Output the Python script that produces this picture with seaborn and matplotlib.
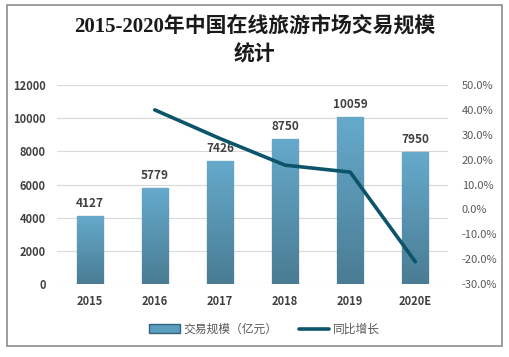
import numpy as np
import pandas as pd
import seaborn as sns
import matplotlib.pyplot as plt
from matplotlib.patches import Rectangle
from matplotlib.lines import Line2D
from matplotlib.colors import LinearSegmentedColormap

years = ['2015', '2016', '2017', '2018', '2019', '2020E']
scale = [4127, 5779, 7426, 8750, 10059, 7950]
growth_years = ['2016', '2017', '2018', '2019', '2020E']
growth = [40.0, 28.5, 17.8, 15.0, -21.0]

sns.set_theme(style='white')
plt.rcParams['font.family'] = ['Noto Sans CJK SC', 'DejaVu Sans']

df = pd.DataFrame({'year': years, 'scale': scale})

fig = plt.figure(figsize=(5.09, 3.57), dpi=100)
ax = fig.add_axes([0.112, 0.204, 0.768, 0.558])

sns.barplot(data=df, x='year', y='scale', ax=ax, width=0.4,
            color='#5b9ec0', edgecolor='#35647a', linewidth=0.9, saturation=1)

# vertical gradient inside each bar
grad = np.linspace(0, 1, 256).reshape(-1, 1)
cmap = LinearSegmentedColormap.from_list('g', ['#4a7c93', '#66aacc'])
for p in ax.patches:
    x0, y0 = p.get_x(), p.get_y()
    w, h = p.get_width(), p.get_height()
    im = ax.imshow(grad, cmap=cmap, aspect='auto', origin='lower',
                   extent=[x0, x0 + w, y0, y0 + h], zorder=p.get_zorder())
    im.set_clip_path(p)
    ax.text(x0 + w / 2, h + 350, f'{int(h)}', ha='center', va='bottom',
            fontsize=8.5, color='#404040', fontweight='bold')

ax.set_xlim(-0.5, 5.5)
ax.set_ylim(0, 12000)
ax.set_yticks(range(0, 12001, 2000))
ax.yaxis.grid(True, color='#d9d9d9', linewidth=0.8)
ax.set_axisbelow(True)
for s in ax.spines.values():
    s.set_visible(False)
ax.set_xlabel('')
ax.set_ylabel('')
ax.tick_params(axis='both', length=0, labelsize=8, colors='#404040', pad=8)
for lab in ax.get_xticklabels() + ax.get_yticklabels():
    lab.set_fontweight('bold')

ax2 = ax.twinx()
pos = [years.index(y) for y in growth_years]
sns.lineplot(x=pos, y=growth, ax=ax2, color='#0c5469', linewidth=2.6)
ax2.set_ylim(-30, 50)
ax2.set_yticks(range(-30, 51, 10))
ax2.set_yticklabels([f'{v:.1f}%' for v in range(-30, 51, 10)])
for s in ax2.spines.values():
    s.set_visible(False)
ax2.tick_params(axis='y', length=0, labelsize=8, colors='#595959', pad=10)
ax2.grid(False)

title_font = ['Liberation Serif', 'Noto Sans CJK SC']
fig.text(0.5, 0.925, '2015-2020年中国在线旅游市场交易规模', ha='center', va='center',
         fontsize=15, fontweight='bold', color='#1a1a1a', family=title_font)
fig.text(0.5, 0.845, '统计', ha='center', va='center',
         fontsize=15, fontweight='bold', color='#1a1a1a', family=title_font)

handles = [Rectangle((0, 0), 1, 1, facecolor='#5b9ec0', edgecolor='#35647a'),
           Line2D([0], [0], color='#0c5469', linewidth=2.6)]
fig.legend(handles, ['交易规模（亿元）', '同比增长'], loc='center',
           bbox_to_anchor=(0.52, 0.078), ncol=2, frameon=False, fontsize=8.5,
           handlelength=2.6, handletextpad=0.3, columnspacing=1.8,
           labelcolor='#595959')

fig.patches.append(Rectangle((0.014, 0.03), 0.972, 0.955, transform=fig.transFigure,
                             fill=False, edgecolor='#8c8c8c', linewidth=1.2))

fig.savefig('out.png', dpi=100)
